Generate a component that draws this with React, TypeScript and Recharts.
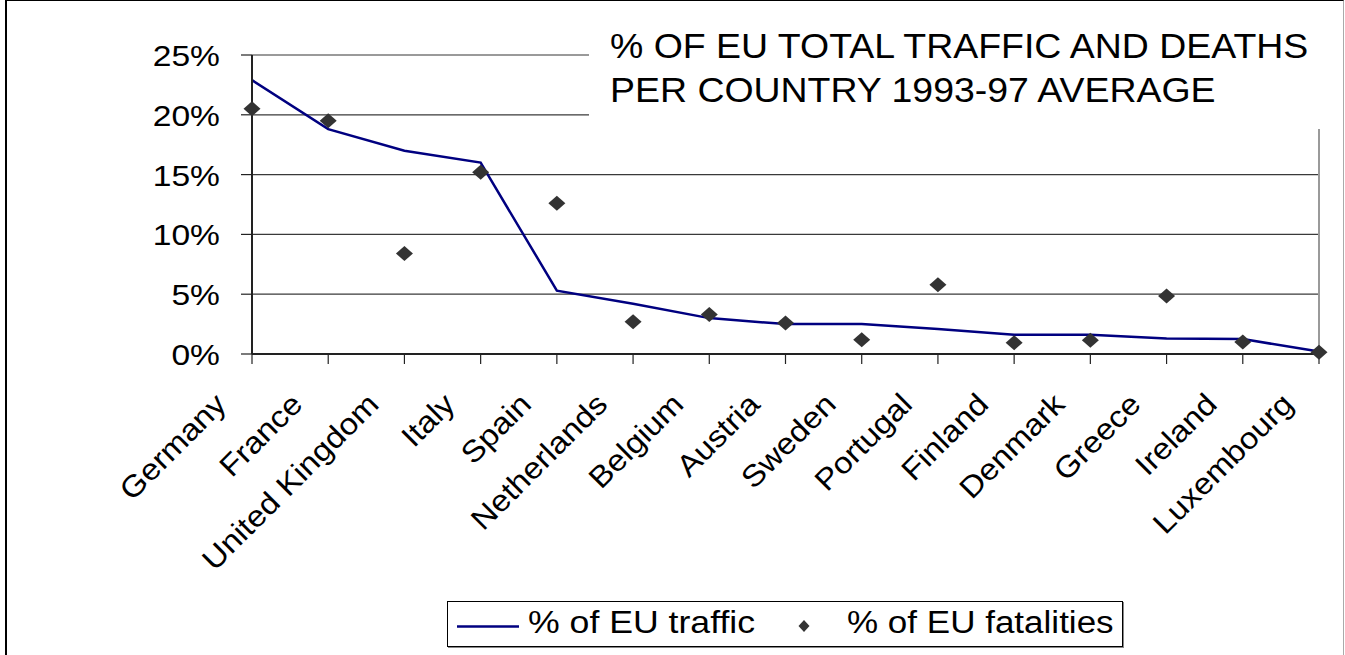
import React from "react";
import {
  ComposedChart,
  Line,
  Scatter,
  XAxis,
  YAxis,
  CartesianGrid,
  ReferenceLine,
} from "recharts";

const FONT = "'Liberation Sans', Arial, sans-serif";

const countries = [
  "Germany",
  "France",
  "United Kingdom",
  "Italy",
  "Spain",
  "Netherlands",
  "Belgium",
  "Austria",
  "Sweden",
  "Portugal",
  "Finland",
  "Denmark",
  "Greece",
  "Ireland",
  "Luxembourg",
];

// % of EU traffic (line)
const traffic = [22.9, 18.8, 17.0, 16.0, 5.3, 4.2, 3.0, 2.5, 2.5, 2.1, 1.6, 1.6, 1.3, 1.25, 0.2];

// % of EU fatalities (diamonds)
const fatalities = [20.5, 19.5, 8.4, 15.2, 12.6, 2.7, 3.3, 2.6, 1.2, 5.8, 0.95, 1.15, 4.85, 1.0, 0.15];

const yTicks = [0, 5, 10, 15, 20, 25];

const titleLines = ["% OF EU TOTAL TRAFFIC AND DEATHS", "PER COUNTRY 1993-97 AVERAGE"];

const data = countries.map((country, i) => ({
  country,
  traffic: traffic[i],
  fatalities: fatalities[i],
}));

const YTick = (props: any) => {
  const { x, y, payload } = props;
  return (
    <text
      transform={`translate(${x},${y + 11}) scale(1.12,1)`}
      textAnchor="end"
      fontSize={30}
      fontFamily={FONT}
      fill="#000"
    >
      {payload.value}%
    </text>
  );
};

const XTick = (props: any) => {
  const { x, y, payload } = props;
  return (
    <text
      transform={`translate(${x - 24},${y + 40}) rotate(-45) scale(1.1,1)`}
      textAnchor="end"
      fontSize={30}
      fontFamily={FONT}
      fill="#000"
    >
      {payload.value}
    </text>
  );
};

const Diamond = (props: any) => {
  const { cx, cy } = props;
  if (cx == null || cy == null) return null;
  return (
    <path
      d={`M${cx},${cy - 7.5}L${cx + 8.5},${cy}L${cx},${cy + 7.5}L${cx - 8.5},${cy}Z`}
      fill="#333333"
    />
  );
};

export default function App() {
  return (
    <div style={{ position: "relative", width: 1345, height: 655, background: "#fff", overflow: "hidden" }}>
      <style>{"body{margin:0}"}</style>
      <div
        style={{
          position: "absolute",
          left: 5,
          top: 0,
          width: 1339,
          height: 655,
          boxSizing: "border-box",
          borderLeft: "2px solid #000",
          borderTop: "1px solid #000",
          borderRight: "1px solid #aaa",
        }}
      />
      <div style={{ position: "absolute", left: 0, top: 0 }}>
        <ComposedChart
          width={1345}
          height={655}
          data={data}
          margin={{ top: 55, right: 26, bottom: 201, left: 192 }}
        >
          <CartesianGrid vertical={false} stroke="#3a3a3a" strokeWidth={1.2} />
          <ReferenceLine y={25} stroke="#9a9a9a" strokeWidth={2} />
          <ReferenceLine x="Luxembourg" stroke="#9a9a9a" strokeWidth={2} />
          <XAxis
            dataKey="country"
            scale="point"
            interval={0}
            height={100}
            tickSize={10}
            tickMargin={2}
            axisLine={{ stroke: "#222", strokeWidth: 2 }}
            tickLine={{ stroke: "#222", strokeWidth: 1.2 }}
            tick={<XTick />}
          />
          <YAxis
            domain={[0, 25]}
            ticks={yTicks}
            width={60}
            tickSize={11}
            tickMargin={21}
            axisLine={{ stroke: "#222", strokeWidth: 2 }}
            tickLine={{ stroke: "#222", strokeWidth: 1.2 }}
            tick={<YTick />}
          />
          <Line
            dataKey="traffic"
            type="linear"
            stroke="#000080"
            strokeWidth={2.5}
            dot={false}
            isAnimationActive={false}
          />
          <Scatter dataKey="fatalities" shape={<Diamond />} isAnimationActive={false} />
        </ComposedChart>
      </div>
      <div
        style={{
          position: "absolute",
          left: 589,
          top: 2,
          width: 746,
          height: 127,
          background: "#fff",
        }}
      >
        <svg width={746} height={127}>
          {titleLines.map((t, i) => (
            <text
              key={t}
              transform={`translate(21,${56 + i * 44}) scale(1.07,1)`}
              fontSize={35}
              fontFamily={FONT}
              fill="#000"
            >
              {t}
            </text>
          ))}
        </svg>
      </div>
      <div
        style={{
          position: "absolute",
          left: 447,
          top: 601,
          width: 676,
          height: 46,
          boxSizing: "border-box",
          border: "1px solid #000",
          boxShadow: "1px 1px 0 #888",
          background: "#fff",
        }}
      >
        <svg width={674} height={44}>
          <line x1={9} y1={24.5} x2={71} y2={24.5} stroke="#000080" strokeWidth={2.5} />
          <text transform="translate(80,31) scale(1.15,1)" fontSize={31} fontFamily={FONT} fill="#000">
            % of EU traffic
          </text>
          <path d="M356,18L361.5,24L356,30L350.5,24Z" fill="#333333" />
          <text transform="translate(399,31) scale(1.13,1)" fontSize={31} fontFamily={FONT} fill="#000">
            % of EU fatalities
          </text>
        </svg>
      </div>
    </div>
  );
}
